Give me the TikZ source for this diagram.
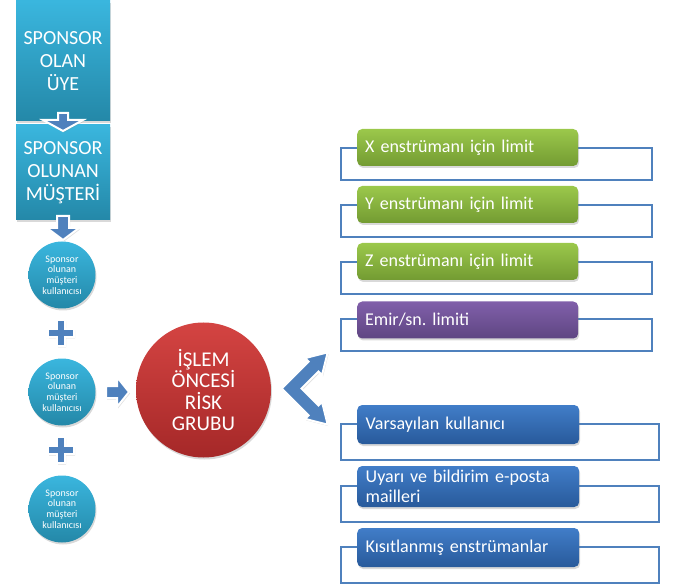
\documentclass[tikz,border=0pt]{standalone}
\usepackage{fontspec}
\setmainfont{Carlito}
\usetikzlibrary{shadows}
\definecolor{arrblue}{RGB}{79,129,189}
\definecolor{tealtop}{RGB}{58,182,222}
\definecolor{tealbot}{RGB}{36,136,168}
\definecolor{greentop}{RGB}{155,200,75}
\definecolor{greenbot}{RGB}{115,155,50}
\definecolor{purptop}{RGB}{128,95,170}
\definecolor{purpbot}{RGB}{95,70,130}
\definecolor{bluetop}{RGB}{65,125,200}
\definecolor{bluebot}{RGB}{40,90,155}
\definecolor{redtop}{RGB}{212,68,66}
\definecolor{redbot}{RGB}{165,40,40}

\tikzset{
  shade/.style={drop shadow={shadow xshift=1pt, shadow yshift=-2pt, opacity=.3}},
  sponsorbox/.style={shade, top color=tealtop, bottom color=tealbot, draw=none,
    text=white, align=center, font=\fontsize{20}{23}\selectfont, minimum width=94pt},
  usercircle/.style={circle, shade, top color=tealtop, bottom color=tealbot, draw=none,
    text=white, align=center, font=\fontsize{10}{10.8}\selectfont, minimum size=67pt, inner sep=0pt},
  frame/.style={draw=arrblue, line width=2pt, minimum width=311pt, minimum height=32pt, inner sep=0pt},
  item/.style={shade, rounded corners=5pt, draw=none, text=white, anchor=west,
    minimum width=217pt, minimum height=37pt, text width=205pt, inner xsep=8pt, align=left,
    font=\fontsize{18}{20}\selectfont},
  green item/.style={item, top color=greentop, bottom color=greenbot},
  purple item/.style={item, top color=purptop, bottom color=purpbot},
  blue item/.style={item, top color=bluetop, bottom color=bluebot, minimum width=222pt, minimum height=39pt},
  blockarrow/.style={fill=arrblue, draw=white, line width=2pt, line join=miter,
    drop shadow={shadow xshift=1pt, shadow yshift=-1.5pt, opacity=.25}}
}

\begin{document}
\begin{tikzpicture}[x=1pt, y=-1pt]
  \useasboundingbox (0,0) rectangle (678,588);

  % Sponsor boxes on the left
  \node[sponsorbox, minimum height=120pt] (b1) at (63,61) {SPONSOR\\OLAN\\ÜYE};
  \node[sponsorbox, minimum height=95pt] (b2) at (63,172.5) {SPONSOR\\OLUNAN\\MÜŞTERİ};

  % Down arrows
  \filldraw[blockarrow] (58,113) -- (68,113) -- (68,120) -- (83,120) -- (63,131) -- (43,120) -- (58,120) -- cycle;
  \filldraw[blockarrow] (57,216) -- (69,216) -- (69,228) -- (79,228) -- (63,240) -- (47,228) -- (57,228) -- cycle;

  % Users
  \node[usercircle] (c1) at (62,275) {Sponsor\\olunan\\müşteri\\kullanıcısı};
  \node[usercircle] (c2) at (62,392) {Sponsor\\olunan\\müşteri\\kullanıcısı};
  \node[usercircle] (c3) at (62,509) {Sponsor\\olunan\\müşteri\\kullanıcısı};

  % Plus signs
  \foreach \cy in {333,450}
    \filldraw[blockarrow] (57,\cy-13) -- (65,\cy-13) -- (65,\cy-4) -- (74,\cy-4) -- (74,\cy+4) -- (65,\cy+4)
      -- (65,\cy+13) -- (57,\cy+13) -- (57,\cy+4) -- (48,\cy+4) -- (48,\cy-4) -- (57,\cy-4) -- cycle;

  % Right arrow to the group
  \filldraw[blockarrow] (106,386) -- (117,386) -- (117,377) -- (129,392) -- (117,407) -- (117,398) -- (106,398) -- cycle;

  % Risk group
  \node[circle, shade, top color=redtop, bottom color=redbot, draw=none, minimum size=135pt,
    text=white, align=center, font=\fontsize{21}{21.5}\selectfont] (rg) at (203.5,390)
    {İŞLEM\\ÖNCESİ\\RİSK\\GRUBU};

  % Double arrow
  \filldraw[blockarrow] (281.7,388.5) -- (308.5,361.6) -- (305,358.1) -- (327.7,352.4) -- (322,375.1)
    -- (318.5,371.6) -- (301.5,388.5) -- (318.5,405.4) -- (322,401.9) -- (327.7,424.6)
    -- (305,418.9) -- (308.5,415.4) -- cycle;

  % Frames
  \foreach \i/\cy in {1/164,2/221,3/278,4/335.5}
    \node[frame] (f\i) at (496.5,\cy) {};
  \foreach \i/\cy in {5/441.5,6/504,7/565}
    \node[frame, minimum width=318pt, minimum height=36pt] (f\i) at (500,\cy) {};

  % Limits
  \node[green item] (r1) at (357,147.5) {X enstrümanı için limit};
  \node[green item] (r2) at (357,204.5) {Y enstrümanı için limit};
  \node[green item] (r3) at (357,261.5) {Z enstrümanı için limit};
  \node[purple item] (r4) at (357,320) {Emir/sn.\ limiti};
  \node[blue item] (r5) at (357,424.5) {Varsayılan kullanıcı};
  \node[blue item, minimum height=41pt] (r6) at (357,486.5) {Uyarı ve bildirim e-posta\\mailleri};
  \node[blue item] (r7) at (357,547.5) {Kısıtlanmış enstrümanlar};
\end{tikzpicture}
\end{document}
